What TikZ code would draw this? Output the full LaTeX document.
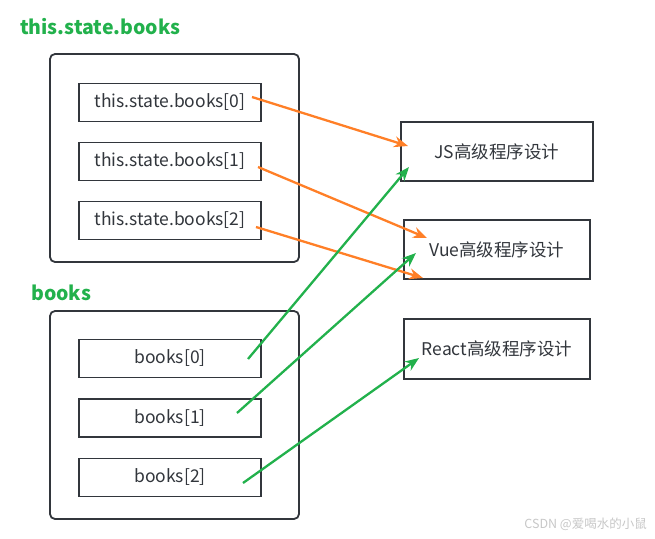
\documentclass[tikz,border=0pt]{standalone}
\usepackage{fontspec}
\setmainfont{Noto Sans CJK SC}
\usetikzlibrary{arrows.meta}
\definecolor{titlegreen}{RGB}{34,177,76}
\definecolor{linkorange}{RGB}{255,127,39}
\definecolor{boxgray}{RGB}{50,54,60}
\begin{document}
\begin{tikzpicture}[x=1pt, y=-1pt]
    \tikzstyle{outer_style}=[draw=boxgray, line width=1.8pt, rounded corners=5pt, minimum width=249pt, minimum height=208pt]
    \tikzstyle{item_style}=[draw=boxgray, line width=1.6pt, minimum width=182pt, minimum height=38pt, font=\fontsize{17.5}{20}\selectfont, text=boxgray]
    \tikzstyle{book_style}=[draw=boxgray, line width=1.6pt, minimum width=186pt, minimum height=59pt, font=\fontsize{17.5}{20}\selectfont, text=boxgray]
    \tikzstyle{title_style}=[anchor=west, inner sep=0pt, text=titlegreen, font=\fontsize{19.5}{22}\selectfont\bfseries]
    \tikzstyle{link_style}=[line width=2.3pt, -{Stealth[length=14pt, width=11pt]}]
    \useasboundingbox (0,0) rectangle (655,538);

    % this.state.books
    \node at (20, 27) [title_style] (title_state) {this.state.books};
    \node at (174.5, 158) [outer_style] (outer_state) {};
    \foreach \x in {0,...,2}
      \node at (170, 102.5+59*\x) [item_style] (state_\x) {this.state.books[\x]};

    % books
    \node at (31, 293) [title_style] (title_books) {books};
    \node at (174.5, 415) [outer_style] (outer_books) {};
    \foreach \x in {0,...,2}
      \node at (170, 358.5+59.5*\x) [item_style] (books_\x) {books[\x]};

    % book objects
    \node at (497, 151.5) [book_style, minimum width=192pt] (book_js) {JS高级程序设计};
    \node at (497, 249.5) [book_style] (book_vue) {Vue高级程序设计};
    \node at (497, 349) [book_style, minimum height=60pt] (book_react) {React高级程序设计};

    % link ends
    \coordinate (state_out_0) at (252, 97);
    \coordinate (state_out_1) at (258, 167);
    \coordinate (state_out_2) at (256, 227);
    \coordinate (books_out_0) at (248, 359);
    \coordinate (books_out_1) at (237, 413);
    \coordinate (books_out_2) at (243, 483);
    \coordinate (js_in_state) at (408, 146);
    \coordinate (vue_in_state) at (427, 238);
    \coordinate (vue_in_state_2) at (423, 278);
    \coordinate (js_in_books) at (409, 167);
    \coordinate (vue_in_books) at (416, 253);
    \coordinate (react_in_books) at (419, 358);

    % connect: this.state.books -> book objects
    \draw[link_style, linkorange] (state_out_0) -- (js_in_state);
    \draw[link_style, linkorange] (state_out_1) -- (vue_in_state);
    \draw[link_style, linkorange] (state_out_2) -- (vue_in_state_2);

    % connect: books -> book objects
    \draw[link_style, titlegreen] (books_out_0) -- (js_in_books);
    \draw[link_style, titlegreen] (books_out_1) -- (vue_in_books);
    \draw[link_style, titlegreen] (books_out_2) -- (react_in_books);

    % watermark
    \node at (647, 524) [anchor=east, inner sep=0pt, text=black!22, font=\fontsize{12.5}{14}\selectfont] (watermark) {CSDN @爱喝水的小鼠};
\end{tikzpicture}
\end{document}
